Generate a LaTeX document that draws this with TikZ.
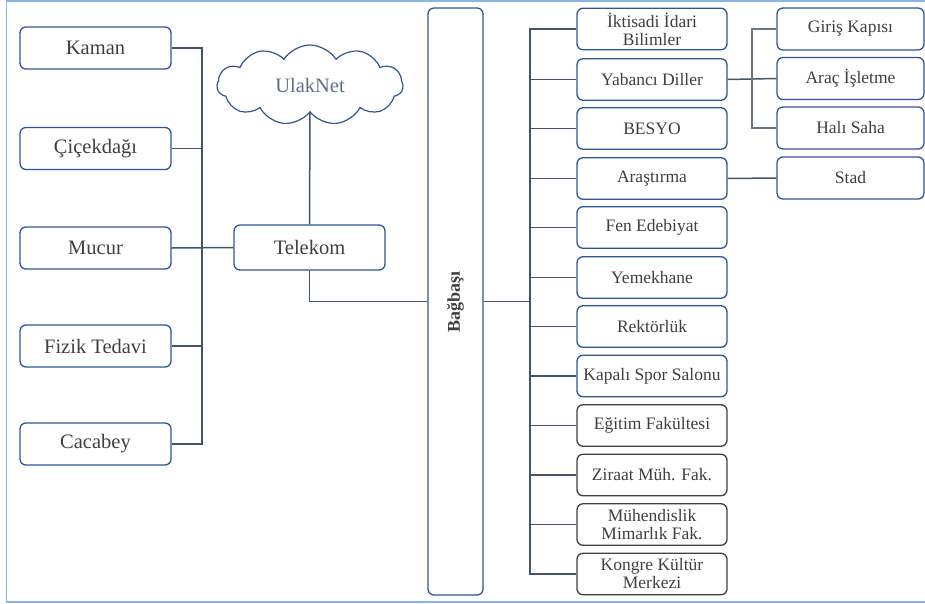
\documentclass[tikz,border=0pt]{standalone}
\usepackage{fontspec}
\setmainfont{Liberation Serif}
\usepackage{graphicx}
\usetikzlibrary{shapes.symbols}
\definecolor{boxblue}{HTML}{2F5597}
\definecolor{boxgrey}{HTML}{404040}
\definecolor{linec}{HTML}{44546A}
\definecolor{txt}{HTML}{3F3F3F}
\definecolor{frame}{HTML}{8DB3E2}
\definecolor{cloudtxt}{HTML}{5F6F85}
\tikzset{
  box/.style={draw=boxblue, line width=1.3pt, rounded corners=6pt, fill=white,
    text=txt, align=center, inner sep=1pt},
  leftbox/.style={box, minimum width=151pt, minimum height=42pt, font=\fontsize{20.5}{22}\selectfont},
  midbox/.style={box, minimum width=150pt, minimum height=41.5pt, font=\fontsize{17.5}{18}\selectfont},
  greybox/.style={midbox, draw=boxgrey},
  rightbox/.style={box, minimum width=147pt, minimum height=42pt, font=\fontsize{17.5}{18}\selectfont},
  conn/.style={draw=linec, line width=1.5pt},
  thinconn/.style={draw=linec!80, line width=1.3pt},
}
\begin{document}
\begin{tikzpicture}[x=1pt,y=1pt]
\useasboundingbox (0,0) rectangle (925,-603);
% frame
\draw[frame, line width=1.5pt] (925,-0.8) -- (6.5,-0.8) -- (6.5,-602) -- (925,-602);

% left column
\node[leftbox] (kaman) at (95.5,-48) {Kaman};
\node[leftbox] (cicek) at (95.5,-148.5) {Çiçekdağı};
\node[leftbox] (mucur) at (95.5,-248) {Mucur};
\node[leftbox] (fizik) at (95.5,-346) {Fizik Tedavi};
\node[leftbox] (cacabey) at (95.5,-444) {Cacabey};

% telekom and cloud
\node[box, minimum width=151pt, minimum height=45pt, font=\fontsize{20.5}{22}\selectfont] (telekom) at (309.5,-247.5) {Telekom};
\node[cloud, cloud puffs=11, cloud puff arc=115, aspect=2.6, draw=boxblue, line width=1.2pt,
  fill=white, minimum width=186pt, minimum height=80pt, inner sep=0pt, text=cloudtxt,
  font=\fontsize{20.5}{22}\selectfont] (ulak) at (310,-85) {UlakNet};

% Bagbasi
\node[box, minimum width=55pt, minimum height=587pt, font=\bfseries\fontsize{18}{20}\selectfont] (bag) at (455.5,-301.5) {\rotatebox{90}{Bağbaşı}};

% middle column
\node[midbox] (iktisadi) at (652,-29) {İktisadi İdari\\Bilimler};
\node[midbox] (yabanci) at (652,-79.5) {Yabancı Diller};
\node[midbox] (besyo) at (652,-128.5) {BESYO};
\node[midbox] (arastirma) at (652,-178.5) {Araştırma};
\node[midbox] (fen) at (652,-227.5) {Fen Edebiyat};
\node[midbox] (yemek) at (652,-277.5) {Yemekhane};
\node[midbox] (rektor) at (652,-326.5) {Rektörlük};
\node[midbox] (kapali) at (652,-376) {Kapalı Spor Salonu};
\node[greybox] (egitim) at (652,-425.5) {Eğitim Fakültesi};
\node[greybox] (ziraat) at (652,-475) {Ziraat Müh. Fak.};
\node[greybox] (muhendis) at (652,-524.5) {Mühendislik\\Mimarlık Fak.};
\node[greybox] (kongre) at (652,-574) {Kongre Kültür\\Merkezi};

% right column
\node[rightbox] (giris) at (850.5,-29) {Giriş Kapısı};
\node[rightbox] (arac) at (850.5,-78.5) {Araç İşletme};
\node[rightbox] (hali) at (850.5,-128) {Halı Saha};
\node[rightbox] (stad) at (850.5,-178) {Stad};

% trunk coordinates
\coordinate (lt) at (202,0);
\coordinate (rt) at (530,0);
\coordinate (yt) at (752,0);

% left connectors
\draw[conn] (kaman.east) -- (kaman.east -| lt) -- (cacabey.east -| lt) -- (cacabey.east);
\draw[conn] (cicek.east) -- (cicek.east -| lt);
\draw[conn] (fizik.east) -- (fizik.east -| lt);
\draw[conn] (mucur.east) -- (telekom.west);
\draw[conn] (ulak.south) -- (telekom.north);
\draw[conn] (telekom.south) |- (bag.west);

% right trunk
\draw[conn] (bag.east) -- (bag.east -| rt);
\draw[conn, line width=2pt] (iktisadi.west) -- (iktisadi.west -| rt) -- (kongre.west -| rt) -- (kongre.west);
\foreach \n in {yabanci,besyo,arastirma,fen,yemek,rektor,kapali,egitim,ziraat,muhendis}
  \draw[conn] (\n.west) -- (\n.west -| rt);

% sub branches
\draw[conn] (yabanci.east) -- (arac.west);
\draw[thinconn] (giris.west) -- (giris.west -| yt) -- (hali.west -| yt) -- (hali.west);
\draw[conn] (arastirma.east) -- (stad.west);
\end{tikzpicture}
\end{document}
